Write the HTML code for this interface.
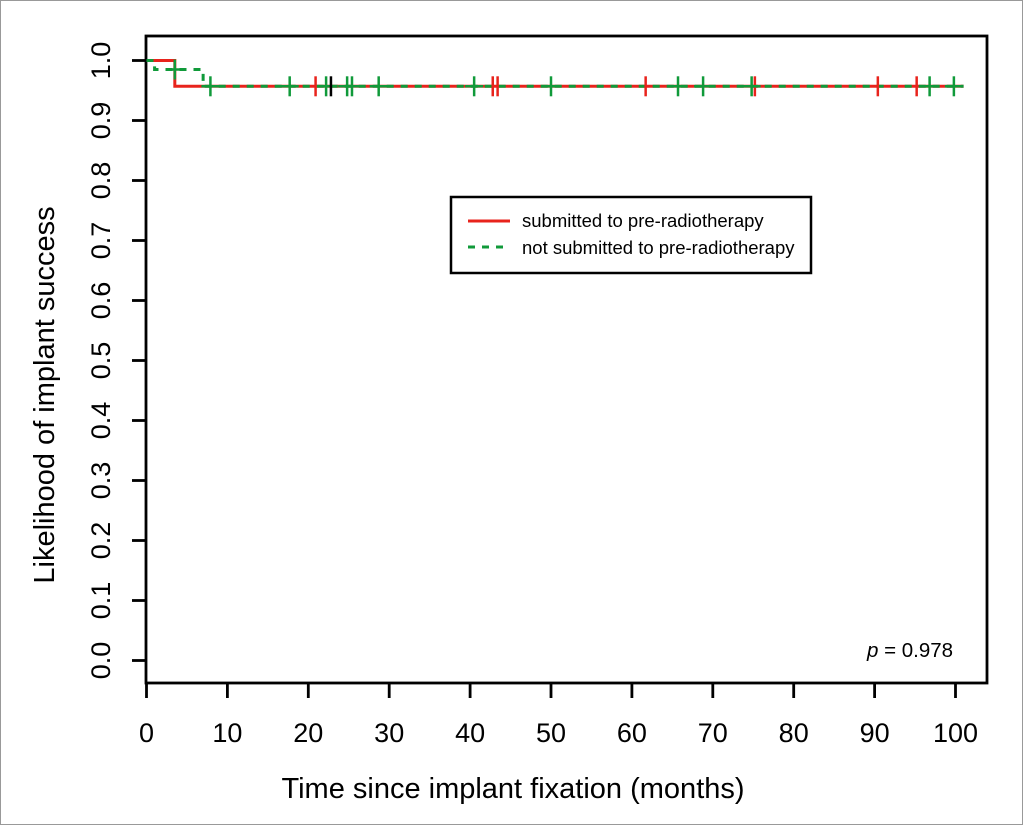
<!DOCTYPE html>
<html><head><meta charset="utf-8"><style>
html,body{margin:0;padding:0;background:#fff}
svg{display:block;font-family:"Liberation Sans",Arial,sans-serif}
</style></head><body>
<svg id="chart" width="1023" height="825" viewBox="0 0 1023 825">
<rect x="0.5" y="0.5" width="1022" height="824" fill="#fff" stroke="#999"/>
<g id="axes"></g><g id="series"></g>
<g>
<rect x="451" y="197" width="360" height="76" fill="#fff" stroke="#000" stroke-width="2.5"/>
<line x1="468" y1="221" x2="510" y2="221" stroke="#e8231c" stroke-width="3"/>
<text x="522" y="227" font-size="18.5">submitted to pre-radiotherapy</text>
<line x1="468" y1="247" x2="510" y2="247" stroke="#109a3a" stroke-width="3" stroke-dasharray="7,7"/>
<text x="522" y="254" font-size="18.5">not submitted to pre-radiotherapy</text>
</g>
<text x="867" y="657" font-size="20.5"><tspan font-style="italic">p</tspan> = 0.978</text>
<text x="513" y="798" font-size="29" text-anchor="middle">Time since implant fixation (months)</text>
<text transform="translate(54,395) rotate(-90)" font-size="29" text-anchor="middle">Likelihood of implant success</text>
</svg>
<script>
const xTicks=[0,10,20,30,40,50,60,70,80,90,100];
const yTicks=[0,0.1,0.2,0.3,0.4,0.5,0.6,0.7,0.8,0.9,1.0];
const redTimes=[0,3.5,101];
const redSurv=[1,0.957,0.957];
const greenTimes=[0,1,7,101];
const greenSurv=[1,0.985,0.957,0.957];
const redCensor=[20.9,42.8,43.4,61.7,75.2,90.4,95.2];
const greenCensor=[7.9,17.7,22.2,24.8,25.4,28.7,40.5,50,65.7,68.8,74.8,96.8,99.8];
const greenCensorHigh=[3.5];
const blackCensor=[22.8];
const X=v=>146.5+v*8.09, Y=v=>660.5-v*600;
const NS='http://www.w3.org/2000/svg';
function mk(p,t,a){const e=document.createElementNS(NS,t);for(const k in a)e.setAttribute(k,a[k]);p.appendChild(e);return e;}
const ax=document.getElementById('axes'), se=document.getElementById('series');
const box=mk(ax,'rect',{x:146,y:36,width:841,height:647,fill:'none',stroke:'#000','stroke-width':2.8});


xTicks.forEach(t=>{
 const l=mk(ax,'line',{x1:X(t),x2:X(t),y1:683,y2:698,stroke:'#000','stroke-width':2.8});
 
 
 const tx=mk(ax,'text',{x:X(t),y:742,'font-size':27,'text-anchor':'middle'});tx.textContent=t;
 
 
});
yTicks.forEach(t=>{
 const l=mk(ax,'line',{x1:132,x2:146,y1:Y(t),y2:Y(t),stroke:'#000','stroke-width':2.8});
 
 
 const tx=mk(ax,'text',{transform:`translate(110,${Y(t)}) rotate(-90)`,'font-size':27,'text-anchor':'middle'});tx.textContent=t.toFixed(1);
 
 
});
function step(ts,ss){let d=`M${X(ts[0])},${Y(ss[0])}`;for(let i=1;i<ts.length;i++){d+=` H${X(ts[i])} V${Y(ss[i])}`;}return d;}
const r=mk(se,'path',{d:step(redTimes,redSurv),fill:'none',stroke:'#e8231c','stroke-width':3});


const g=mk(se,'path',{d:step(greenTimes,greenSurv),fill:'none',stroke:'#109a3a','stroke-width':3,'stroke-dasharray':'7,7'});


function cens(arr,col,lvl,name){arr.forEach(t=>{
 const c=mk(se,'line',{x1:X(t),x2:X(t),y1:Y(lvl)-10,y2:Y(lvl)+10,stroke:col,'stroke-width':2.5});
 
 
 if(col==='#109a3a'){const h=mk(se,'line',{x1:X(t)-9,x2:X(t)+9,y1:Y(lvl),y2:Y(lvl),stroke:col,'stroke-width':2.5});
 
 }
});}
cens(redCensor,'#e8231c',0.957,'censor-submitted');
cens(greenCensor,'#109a3a',0.957,'censor-not-submitted');
cens(greenCensorHigh,'#109a3a',0.985,'censor-not-submitted');
cens(blackCensor,'#000',0.957,'censor-both');
</script>
</body></html>
